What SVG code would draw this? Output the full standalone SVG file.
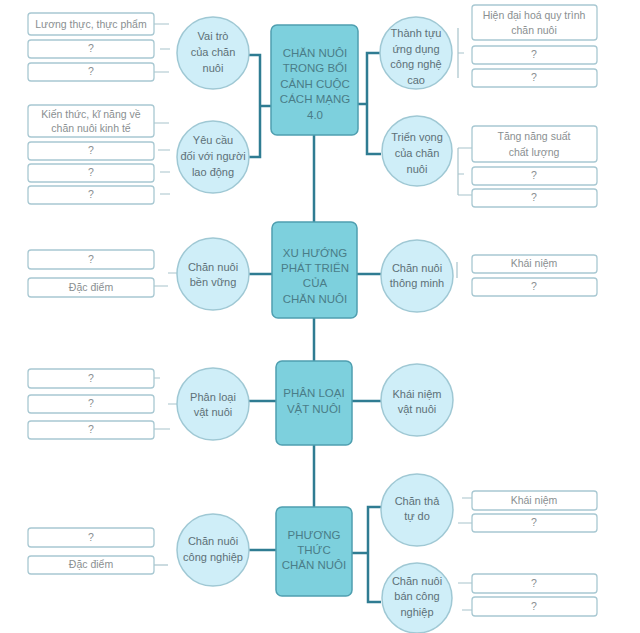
<svg xmlns="http://www.w3.org/2000/svg" width="640" height="633" viewBox="0 0 640 633">
<style>
.main rect{fill:#7dd0dd;stroke:#4f9fb0;stroke-width:1.5}
.main text{font-family:"Liberation Sans",Arial,sans-serif;font-size:11.5px;fill:#4a7d88;text-anchor:middle}
.topic circle{fill:#cfeef8;stroke:#9fc8d4;stroke-width:1.5}
.topic text{font-family:"Liberation Sans",Arial,sans-serif;font-size:11px;fill:#5d7077;text-anchor:middle}
.leaf rect{fill:#ffffff;stroke:#a8c8d2;stroke-width:1.3}
.leaf text{font-family:"Liberation Sans",Arial,sans-serif;font-size:10.5px;fill:#8a8f91;text-anchor:middle}
.conn path{fill:none;stroke:#2f7c92;stroke-width:2.5}
.faint path{fill:none;stroke:#a8c3cb;stroke-width:1.2}
</style>
<rect width="640" height="633" fill="#ffffff"/>

<g class="conn" id="connectors">
<path d="M314,135 V222 M314,318 V361 M314,445 V507"/>
<path d="M249,55 H260 V157 H249 M260,106 H271"/>
<path d="M358,104 H367 V53 H380 M367,104 V154 H381"/>
<path d="M249,274 H272 M357,274 H381"/>
<path d="M249,401 H276 M352,401 H381"/>
<path d="M249,550 H276"/>
<path d="M352,553 H368 V507 H381 M368,553 V602 H381"/>
</g>
<g class="faint" id="stubs">
<path d="M154,24 H169 M160,49 H170 M154,72 H169"/>
<path d="M154,123 H169 M158,150 H170 M160,172 H170 M160,194 H170"/>
<path d="M458,28 V78 M458,53 H464"/>
<path d="M458,148 V195 M458,148 H472 M458,174 H464 M458,195 H472"/>
<path d="M168,273 H177 M154,286 H168"/>
<path d="M457,262 V278"/>
<path d="M154,378 H160 M168,404 H177 M154,429 H170"/>
<path d="M154,565 H168"/>
<path d="M462,498 H472 M458,523 H472 M458,583 H472 M462,610 H472"/>
</g>

<g class="main" id="main-40"><rect x="271" y="25" width="87" height="110" rx="6"/>
<text x="315" y="57">CHĂN NUÔI</text><text x="315" y="72">TRONG BỐI</text><text x="315" y="88">CẢNH CUỘC</text><text x="315" y="103">CÁCH MẠNG</text><text x="315" y="119">4.0</text></g>
<g class="main" id="main-xuhuong"><rect x="272" y="222" width="85" height="96" rx="6"/>
<text x="315" y="257">XU HƯỚNG</text><text x="315" y="272">PHÁT TRIỂN</text><text x="315" y="287">CỦA</text><text x="315" y="303">CHĂN NUÔI</text></g>
<g class="main" id="main-phanloai"><rect x="276" y="361" width="76" height="84" rx="6"/>
<text x="314" y="397">PHÂN LOẠI</text><text x="314" y="413">VẬT NUÔI</text></g>
<g class="main" id="main-phuongthuc"><rect x="276" y="507" width="76" height="89" rx="6"/>
<text x="314" y="539">PHƯƠNG</text><text x="314" y="554">THỨC</text><text x="314" y="569">CHĂN NUÔI</text></g>

<g class="topic" id="t-vaitro"><circle cx="213" cy="53" r="36"/><text x="213" y="40">Vai trò</text><text x="213" y="56">của chăn</text><text x="213" y="72">nuôi</text></g>
<g class="topic" id="t-yeucau"><circle cx="213" cy="157" r="36"/><text x="213" y="144">Yêu cầu</text><text x="213" y="160">đối với người</text><text x="213" y="176">lao động</text></g>
<g class="topic" id="t-thanhtuu"><circle cx="416" cy="53" r="36"/><text x="416" y="37">Thành tựu</text><text x="416" y="53">ứng dụng</text><text x="416" y="68">công nghệ</text><text x="416" y="84">cao</text></g>
<g class="topic" id="t-trienvong"><circle cx="417" cy="151" r="35"/><text x="417" y="141">Triển vọng</text><text x="417" y="157">của chăn</text><text x="417" y="173">nuôi</text></g>
<g class="topic" id="t-benvung"><circle cx="213" cy="274" r="36"/><text x="213" y="271">Chăn nuôi</text><text x="213" y="286">bền vững</text></g>
<g class="topic" id="t-thongminh"><circle cx="417" cy="276" r="36"/><text x="417" y="272">Chăn nuôi</text><text x="417" y="287">thông minh</text></g>
<g class="topic" id="t-phanloai"><circle cx="213" cy="404" r="36"/><text x="213" y="401">Phân loại</text><text x="213" y="416">vật nuôi</text></g>
<g class="topic" id="t-khainiem"><circle cx="417" cy="400" r="36"/><text x="417" y="398">Khái niệm</text><text x="417" y="413">vật nuôi</text></g>
<g class="topic" id="t-congnghiep"><circle cx="213" cy="550" r="36"/><text x="213" y="545">Chăn nuôi</text><text x="213" y="561">công nghiệp</text></g>
<g class="topic" id="t-chantha"><circle cx="417" cy="510" r="36"/><text x="417" y="505">Chăn thả</text><text x="417" y="520">tự do</text></g>
<g class="topic" id="t-bancongnghiep"><circle cx="417" cy="598" r="35"/><text x="417" y="585">Chăn nuôi</text><text x="417" y="600">bán công</text><text x="417" y="616">nghiệp</text></g>

<g class="leaf" id="l1"><rect x="28" y="13" width="126" height="22" rx="3"/><text x="91" y="28">Lương thực, thực phẩm</text></g>
<g class="leaf" id="l2"><rect x="28" y="40" width="126" height="18" rx="3"/><text x="91" y="52">?</text></g>
<g class="leaf" id="l3"><rect x="28" y="63" width="126" height="18" rx="3"/><text x="91" y="75">?</text></g>
<g class="leaf" id="l4"><rect x="28" y="105" width="126" height="32" rx="3"/><text x="91" y="118">Kiến thức, kĩ năng về</text><text x="91" y="132">chăn nuôi kinh tế</text></g>
<g class="leaf" id="l5"><rect x="28" y="142" width="126" height="18" rx="3"/><text x="91" y="154">?</text></g>
<g class="leaf" id="l6"><rect x="28" y="164" width="126" height="18" rx="3"/><text x="91" y="176">?</text></g>
<g class="leaf" id="l7"><rect x="28" y="186" width="126" height="18" rx="3"/><text x="91" y="198">?</text></g>
<g class="leaf" id="r1"><rect x="472" y="5" width="125" height="35" rx="3"/><text x="534" y="19">Hiện đại hoá quy trình</text><text x="534" y="34">chăn nuôi</text></g>
<g class="leaf" id="r2"><rect x="472" y="46" width="125" height="18" rx="3"/><text x="534" y="58">?</text></g>
<g class="leaf" id="r3"><rect x="472" y="69" width="125" height="18" rx="3"/><text x="534" y="81">?</text></g>
<g class="leaf" id="r4"><rect x="472" y="126" width="125" height="36" rx="3"/><text x="534" y="140">Tăng năng suất</text><text x="534" y="156">chất lượng</text></g>
<g class="leaf" id="r5"><rect x="472" y="167" width="125" height="18" rx="3"/><text x="534" y="179">?</text></g>
<g class="leaf" id="r6"><rect x="472" y="189" width="125" height="18" rx="3"/><text x="534" y="201">?</text></g>
<g class="leaf" id="l8"><rect x="28" y="250" width="126" height="19" rx="3"/><text x="91" y="263">?</text></g>
<g class="leaf" id="l9"><rect x="28" y="278" width="126" height="19" rx="3"/><text x="91" y="291">Đặc điểm</text></g>
<g class="leaf" id="r7"><rect x="472" y="255" width="125" height="18" rx="3"/><text x="534" y="267">Khái niệm</text></g>
<g class="leaf" id="r8"><rect x="472" y="278" width="125" height="18" rx="3"/><text x="534" y="290">?</text></g>
<g class="leaf" id="l10"><rect x="28" y="369" width="126" height="19" rx="3"/><text x="91" y="382">?</text></g>
<g class="leaf" id="l11"><rect x="28" y="395" width="126" height="18" rx="3"/><text x="91" y="407">?</text></g>
<g class="leaf" id="l12"><rect x="28" y="421" width="126" height="18" rx="3"/><text x="91" y="433">?</text></g>
<g class="leaf" id="l13"><rect x="28" y="528" width="126" height="19" rx="3"/><text x="91" y="541">?</text></g>
<g class="leaf" id="l14"><rect x="28" y="556" width="126" height="18" rx="3"/><text x="91" y="568">Đặc điểm</text></g>
<g class="leaf" id="r9"><rect x="472" y="491" width="125" height="19" rx="3"/><text x="534" y="504">Khái niệm</text></g>
<g class="leaf" id="r10"><rect x="472" y="514" width="125" height="18" rx="3"/><text x="534" y="526">?</text></g>
<g class="leaf" id="r11"><rect x="472" y="574" width="125" height="19" rx="3"/><text x="534" y="587">?</text></g>
<g class="leaf" id="r12"><rect x="472" y="597" width="125" height="19" rx="3"/><text x="534" y="610">?</text></g>
</svg>
